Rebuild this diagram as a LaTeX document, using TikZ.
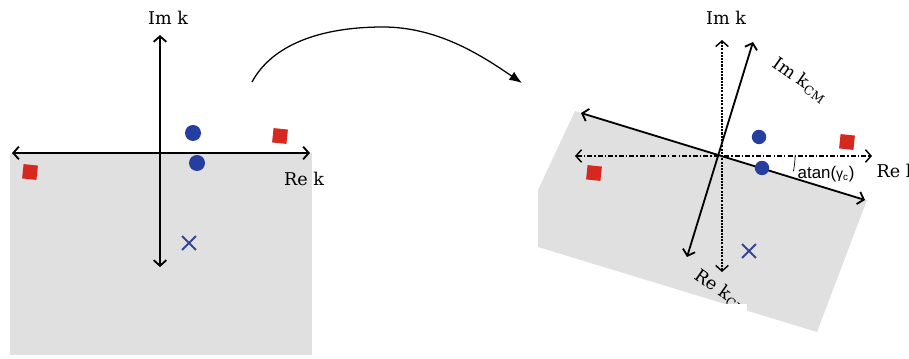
\documentclass[tikz,border=0pt]{standalone}
\usepackage{fontspec}
\setmainfont{DejaVu Serif}
\newfontfamily\atanfont{Liberation Sans}
\usetikzlibrary{arrows.meta,shapes.misc}

\definecolor{poleblue}{RGB}{38,62,160}
\definecolor{zerored}{RGB}{214,40,30}
\definecolor{crossblue}{RGB}{50,70,150}
\definecolor{planegray}{RGB}{224,224,224}

\tikzset{
  axis/.style={line width=1.3pt, {Straight Barb[length=4pt,width=9pt]}-{Straight Barb[length=4pt,width=9pt]}},
  bluedot/.style={circle, fill=poleblue, inner sep=0pt, minimum size=0.4cm},
  redsquare/.style={fill=zerored, inner sep=0pt, minimum size=0.36cm, rotate=-6},
  crossx/.style={cross out, draw=crossblue, line width=1.3pt, inner sep=0pt, minimum size=0.3cm},
  lbl/.style={font=\fontsize{12.5}{14}\selectfont, inner sep=1pt}
}

\begin{document}
\begin{tikzpicture}[x=0.025cm, y=-0.025cm]

    \useasboundingbox (0,0) rectangle (909,359);

    %% Original k plane
    % Lower half plane
    \fill[planegray] (10,153) rectangle (312,355);

    % Axes
    \coordinate (reL) at (12,153);
    \coordinate (reR) at (310,153);
    \coordinate (imT) at (160,35);
    \coordinate (imB) at (160,267);
    \draw[axis] (reL) -- (reR);
    \draw[axis] (imB) -- (imT);
    \node[lbl] (imk) at (168,18) {Im k};
    \node[lbl] (rek) at (304,179) {Re k};

    % Poles and zeros
    \node[bluedot] (dotA) at (193,133) {};
    \node[bluedot] (dotB) at (197,163) {};
    \node[redsquare] (sqA) at (280,136) {};
    \node[redsquare] (sqB) at (30,172) {};
    \node[crossx] (crA) at (189,243) {};

    %% Mapping arrow
    \coordinate (mapS) at (252,82);
    \coordinate (mapM) at (383,27);
    \coordinate (mapE) at (522,83);
    \draw[-{Latex[length=9pt,width=7pt]}, line width=0.9pt] (mapS) .. controls (272,45) and (320,27) .. (mapM)
        .. controls (440,27) and (485,58) .. (mapE);

    %% Rotated k_CM plane
    % Rotated lower half plane
    \fill[planegray] (575,111) -- (867,200) -- (817,332) -- (538,247) -- (538,190) -- cycle;

    % Original axes, dash-dotted and dotted
    \coordinate (O2) at (722,156);
    \coordinate (reL2) at (575,156);
    \coordinate (reR2) at (872,156);
    \coordinate (imT2) at (722,40);
    \coordinate (imB2) at (722,272);
    \draw[axis, line width=1pt, dash pattern=on 3.5pt off 1.5pt on 1pt off 1.5pt] (reL2) -- (reR2);
    \draw[axis, line width=1pt, dash pattern=on 1.5pt off 0.8pt] (imB2) -- (imT2);
    \node[lbl] (imk2) at (726,18) {Im k};
    \node[lbl, anchor=west] (rek2) at (875,171) {Re k};

    % Rotated axes
    \coordinate (cmL) at (581,113);
    \coordinate (cmR) at (865,200);
    \coordinate (cmT) at (753,42);
    \coordinate (cmB) at (687,257);
    \draw[axis] (cmL) -- (cmR);
    \draw[axis] (cmB) -- (cmT);
    \node[lbl, rotate=-35] (imcm) at (800,80) {Im k\textsubscript{CM}};
    \node[lbl, rotate=-35] (recm) at (722,292) {Re k\textsubscript{CM}};

    % Rotation angle
    \coordinate (angS) at (795,156);
    \draw[line width=0.5pt] (angS) arc[start angle=0, end angle=-12, radius=1.83cm];
    \node[font=\atanfont\fontsize{12}{14}\selectfont, anchor=west, inner sep=1pt] (atan) at (796,174)
        {atan({\fontsize{10}{11}\selectfont γ\textsubscript{c}})};

    % Poles and zeros
    \node[bluedot, minimum size=0.36cm] (dotC) at (759,137) {};
    \node[bluedot, minimum size=0.36cm] (dotD) at (762,168) {};
    \node[redsquare] (sqC) at (847,142) {};
    \node[redsquare] (sqD) at (594,173) {};
    \node[crossx] (crB) at (749,251) {};

    % Cut edge of the rotated picture
    \fill[white] (569,304) rectangle (747,359);

\end{tikzpicture}
\end{document}
